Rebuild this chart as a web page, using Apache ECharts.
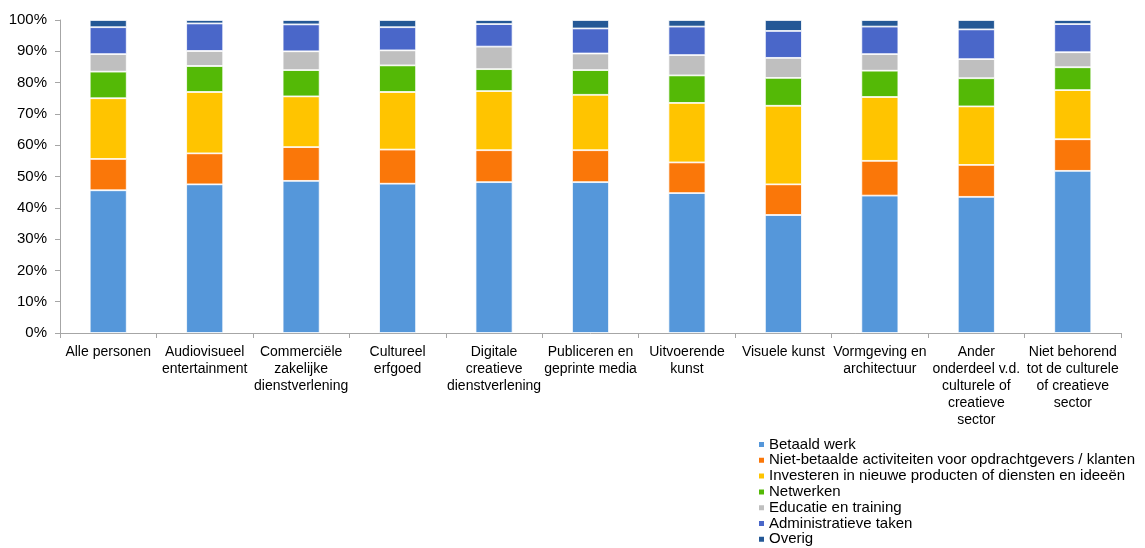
<!DOCTYPE html>
<html>
<head>
<meta charset="utf-8">
<script src="https://cdn.jsdelivr.net/npm/echarts@6/dist/echarts.min.js"></script>
<style>html,body{margin:0;padding:0;background:#fff}#c{width:1145px;height:548px}</style>
</head>
<body>
<div id="c"></div>
<script>
const categories = [
  "Alle personen",
  "Audiovisueel\nentertainment",
  "Commerciële\nzakelijke\ndienstverlening",
  "Cultureel\nerfgoed",
  "Digitale\ncreatieve\ndienstverlening",
  "Publiceren en\ngeprinte media",
  "Uitvoerende\nkunst",
  "Visuele kunst",
  "Vormgeving en\narchitectuur",
  "Ander\nonderdeel v.d.\nculturele of\ncreatieve\nsector",
  "Niet behorend\ntot de culturele\nof creatieve\nsector"
];
const seriesNames = [
  "Betaald werk",
  "Niet-betaalde activiteiten voor opdrachtgevers / klanten",
  "Investeren in nieuwe producten of diensten en ideeën",
  "Netwerken",
  "Educatie en training",
  "Administratieve taken",
  "Overig"
];
const betaaldWerk     = [45.6, 47.5, 48.6, 47.7, 48.2, 48.2, 44.7, 37.7, 43.9, 43.5, 51.8];
const nietBetaald     = [10.0,  9.9, 10.8, 10.9, 10.2, 10.2,  9.8,  9.8, 11.1, 10.2, 10.1];
const investeren      = [19.4, 19.6, 16.2, 18.4, 18.9, 17.7, 19.0, 25.1, 20.4, 18.7, 15.7];
const netwerken       = [ 8.5,  8.3,  8.4,  8.5,  7.0,  7.9,  8.8,  8.9,  8.4,  9.0,  7.3];
const educatie        = [ 5.6,  4.8,  6.0,  4.8,  7.2,  5.3,  6.5,  6.4,  5.3,  6.1,  4.8];
const administratief  = [ 8.6,  8.8,  8.6,  7.4,  7.2,  8.0,  9.1,  8.6,  8.8,  9.5,  9.0];
const overig          = [ 2.3,  1.1,  1.4,  2.3,  1.3,  2.7,  2.1,  3.5,  2.1,  3.0,  1.3];
const yTicks = [0, 10, 20, 30, 40, 50, 60, 70, 80, 90, 100];

const allValues = [betaaldWerk, nietBetaald, investeren, netwerken, educatie, administratief, overig];
const colors = ["#5597DA", "#FA7709", "#FFC400", "#54B906", "#BFBFBF", "#4A67C9", "#245896"];

const chart = echarts.init(document.getElementById('c'));
chart.setOption({
  animation: false,
  textStyle: { fontFamily: "Liberation Sans, Arial, sans-serif" },
  grid: { left: 60, right: 24, top: 20, bottom: 215 },
  legend: {
    orient: 'vertical',
    left: 757,
    top: 437,
    itemWidth: 7,
    itemHeight: 7,
    itemGap: 0.8,
    icon: 'rect',
    padding: 0,
    textStyle: { fontSize: 15, color: '#000', lineHeight: 15, padding: [0, 0, 0, -1] },
    data: seriesNames
  },
  xAxis: {
    type: 'category',
    data: categories,
    axisLine: { lineStyle: { color: '#A6A6A6', width: 1 } },
    axisTick: { show: true, length: 5, lineStyle: { color: '#A6A6A6' } },
    axisLabel: { interval: 0, fontSize: 14, color: '#000', lineHeight: 17, margin: 11 }
  },
  yAxis: {
    type: 'value',
    min: yTicks[0],
    max: yTicks[yTicks.length - 1],
    interval: 10,
    splitLine: { show: false },
    axisLine: { show: true, lineStyle: { color: '#A6A6A6', width: 1 } },
    axisTick: { show: true, length: 5, lineStyle: { color: '#A6A6A6' } },
    axisLabel: { fontSize: 15, color: '#000', margin: 13, formatter: '{value}%' }
  },
  series: seriesNames.map((n, i) => ({
    name: n,
    type: 'bar',
    stack: 'total',
    barWidth: 37,
    data: allValues[i],
    itemStyle: { color: colors[i], borderColor: '#fff', borderWidth: 0.8 }
  }))
});
</script>
</body>
</html>
